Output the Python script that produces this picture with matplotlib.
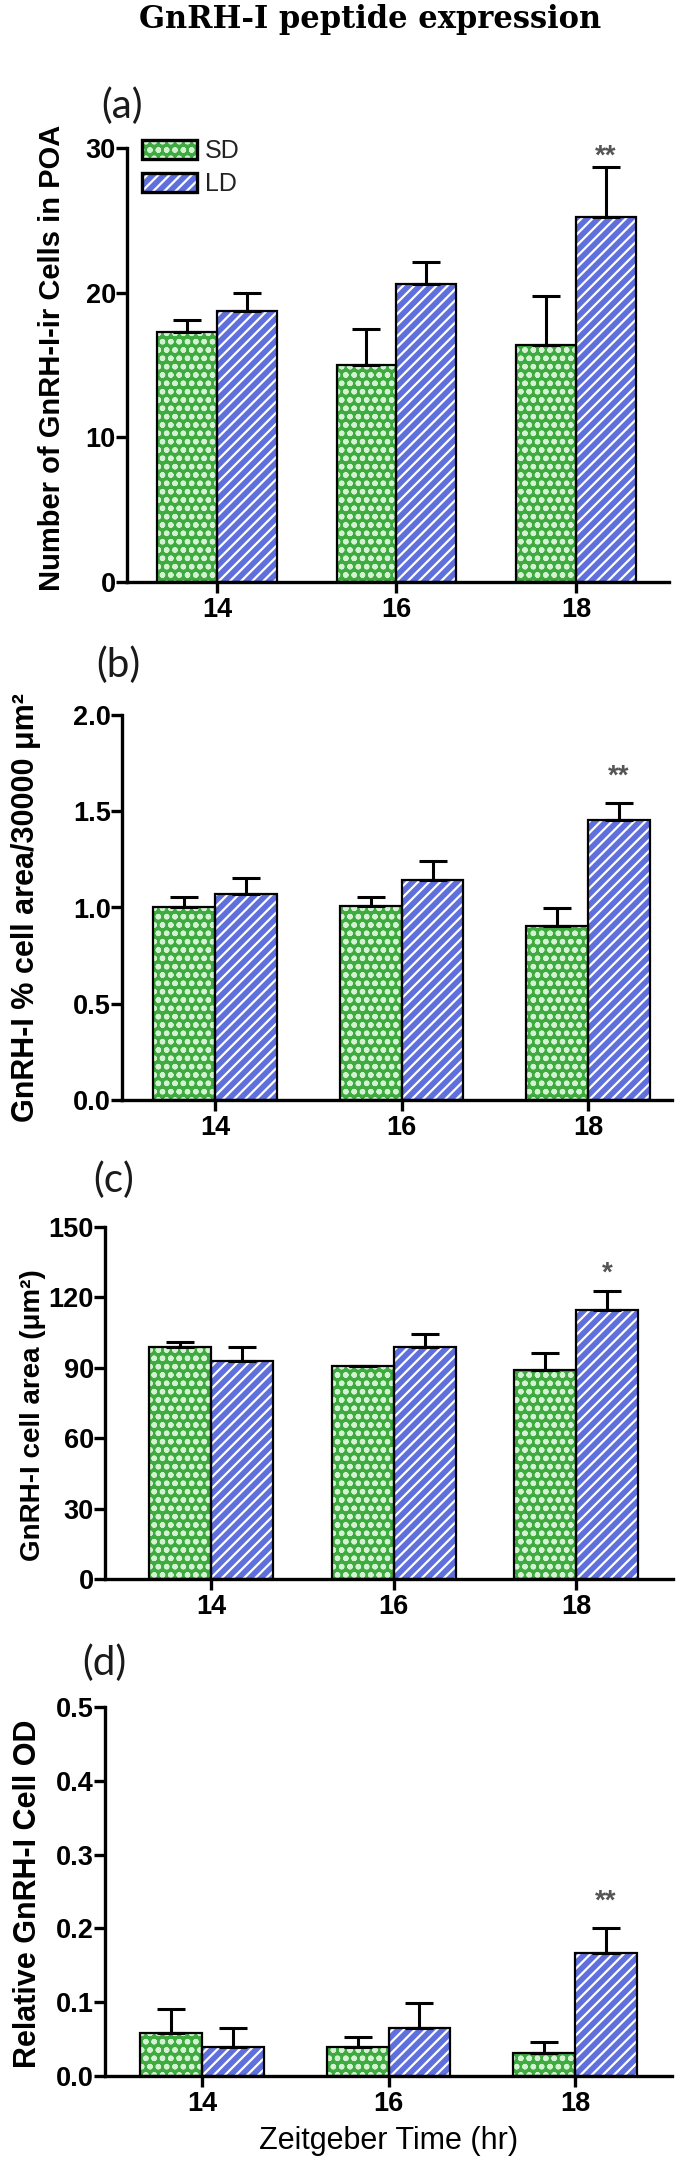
import numpy as np
import matplotlib
matplotlib.use("Agg")
import matplotlib.pyplot as plt
from matplotlib.patches import Patch
from matplotlib.legend_handler import HandlerTuple

# data
zt = ["14", "16", "18"]
groups = ["SD", "LD"]

a_sd = [17.3, 15.0, 16.4]
a_sd_err = [0.8, 2.5, 3.4]
a_ld = [18.7, 20.6, 25.2]
a_ld_err = [1.3, 1.5, 3.5]

b_sd = [1.00, 1.01, 0.905]
b_sd_err = [0.055, 0.045, 0.09]
b_ld = [1.07, 1.145, 1.455]
b_ld_err = [0.085, 0.095, 0.09]

c_sd = [98.7, 90.8, 88.9]
c_sd_err = [2.4, 0.0, 7.5]
c_ld = [93.0, 98.7, 114.7]
c_ld_err = [5.8, 5.7, 8.1]

d_sd = [0.058, 0.039, 0.031]
d_sd_err = [0.033, 0.014, 0.015]
d_ld = [0.039, 0.065, 0.167]
d_ld_err = [0.026, 0.034, 0.034]

a_ticks = [0, 10, 20, 30]
b_ticks = [0.0, 0.5, 1.0, 1.5, 2.0]
c_ticks = [0, 30, 60, 90, 120, 150]
d_ticks = [0.0, 0.1, 0.2, 0.3, 0.4, 0.5]

a_star = ("**", 29.4)
b_star = ("**", 1.68)
c_star = ("*", 130)
d_star = ("**", 0.236)

SD_FACE = "#3faa3f"
SD_HATCH = "#d2f2d2"
LD_FACE = "#5f6fdc"
LD_HATCH = "#ffffff"

plt.rcParams["font.family"] = ["Liberation Sans", "DejaVu Sans"]
plt.rcParams["font.weight"] = "bold"
plt.rcParams["hatch.linewidth"] = 1.6

W, H = 685, 2169
fig = plt.figure(figsize=(W / 100, H / 100), dpi=100)


def rect(l, r, t, b):
    return [l / W, 1 - b / H, (r - l) / W, (b - t) / H]


panels = [
    dict(box=(127, 669, 148, 582), xlim=(-0.501, 2.518), bw=0.334,
         sd=a_sd, sde=a_sd_err, ld=a_ld, lde=a_ld_err, ticks=a_ticks, fmt="%d",
         star=a_star, ylabel="Number of GnRH-I-ir Cells in POA", ylsize=21,
         lab=(-0.112, 0.516), tag="(a)", tagxy=(101, 106)),
    dict(box=(122, 672, 715, 1100), xlim=(-0.499, 2.45), bw=0.332,
         sd=b_sd, sde=b_sd_err, ld=b_ld, lde=b_ld_err, ticks=b_ticks, fmt="%.1f",
         star=b_star, ylabel="GnRH-I % cell area/30000 μm²", ylsize=22,
         lab=(-0.148, 0.50), tag="(b)", tagxy=(96, 665)),
    dict(box=(105, 673, 1227, 1579), xlim=(-0.581, 2.53), bw=0.34,
         sd=c_sd, sde=c_sd_err, ld=c_ld, lde=c_ld_err, ticks=c_ticks, fmt="%d",
         star=c_star, ylabel="GnRH-I cell area (μm²)", ylsize=20,
         lab=(-0.104, 0.466), tag="(c)", tagxy=(93, 1180)),
    dict(box=(105, 672, 1707, 2076), xlim=(-0.52, 2.52), bw=0.332,
         sd=d_sd, sde=d_sd_err, ld=d_ld, lde=d_ld_err, ticks=d_ticks, fmt="%.1f",
         star=d_star, ylabel="Relative GnRH-I Cell OD", ylsize=22,
         lab=(-0.110, 0.493), tag="(d)", tagxy=(82, 1663)),
]

x = np.arange(len(zt))
for i, p in enumerate(panels):
    ax = fig.add_axes(rect(*p["box"]))
    w = p["bw"]
    for vals, errs, off, face, hc, hatch in [
        (p["sd"], p["sde"], -w / 2, SD_FACE, SD_HATCH, "oo"),
        (p["ld"], p["lde"], w / 2, LD_FACE, LD_HATCH, "///"),
    ]:
        ax.bar(x + off, vals, w, color=face, hatch=hatch, edgecolor=hc,
               linewidth=0, zorder=2)
        ax.bar(x + off, vals, w, fill=False, edgecolor="black",
               linewidth=1.6, zorder=4)
        ax.errorbar(x + off, vals, yerr=[np.zeros(len(vals)), errs], fmt="none",
                    ecolor="black", elinewidth=2.2, capsize=10, capthick=2.2,
                    zorder=3)

    t, yv = p["star"]
    ax.text(x[2] + w / 2, yv, t, ha="center", va="center", fontsize=20,
            color="#555555", fontweight="bold")

    ax.set_xlim(*p["xlim"])
    ax.set_ylim(p["ticks"][0], p["ticks"][-1])
    ax.set_xticks(x)
    ax.set_xticklabels(zt)
    ax.set_yticks(p["ticks"])
    ax.set_yticklabels([p["fmt"] % v for v in p["ticks"]])
    for s in ["top", "right"]:
        ax.spines[s].set_visible(False)
    for s in ["left", "bottom"]:
        ax.spines[s].set_linewidth(2.4)
    ax.tick_params(axis="both", width=2.4, length=8, labelsize=19.5, pad=0)
    ax.tick_params(axis="x", pad=3)

    ax.set_ylabel(p["ylabel"], fontsize=p["ylsize"], fontweight="bold")
    ax.yaxis.set_label_coords(*p["lab"])

    fig.text(p["tagxy"][0] / W, 1 - p["tagxy"][1] / H, p["tag"], ha="left",
             va="center", fontsize=29, fontweight="normal", color="#1a1a1a",
             family=["Lato", "DejaVu Sans"])

    if i == 0:
        hs = []
        for face, hc, hatch in [(SD_FACE, SD_HATCH, "oo"), (LD_FACE, LD_HATCH, "///")]:
            hs.append((Patch(facecolor=face, edgecolor=hc, hatch=hatch, linewidth=0),
                       Patch(fill=False, edgecolor="black", linewidth=2.4)))
        leg = ax.legend(hs, groups, handler_map={tuple: HandlerTuple(ndivide=1)},
                        loc="upper left", bbox_to_anchor=(0.028, 1.02),
                        frameon=False, borderpad=0, borderaxespad=0,
                        handlelength=2.2, handleheight=0.8, handletextpad=0.3,
                        labelspacing=0.35, prop=dict(size=18, weight="normal"))
        for tx in leg.get_texts():
            tx.set_color("#222222")

    if i == 3:
        ax.set_xlabel("Zeitgeber Time (hr)", fontsize=22, fontweight="normal",
                      labelpad=6)

fig.text(370 / W, 1 - 28 / H, "GnRH-I peptide expression", ha="center",
         va="baseline", fontsize=22, fontweight="bold", family=["DejaVu Serif"])

fig.savefig("out.png", dpi=100)
